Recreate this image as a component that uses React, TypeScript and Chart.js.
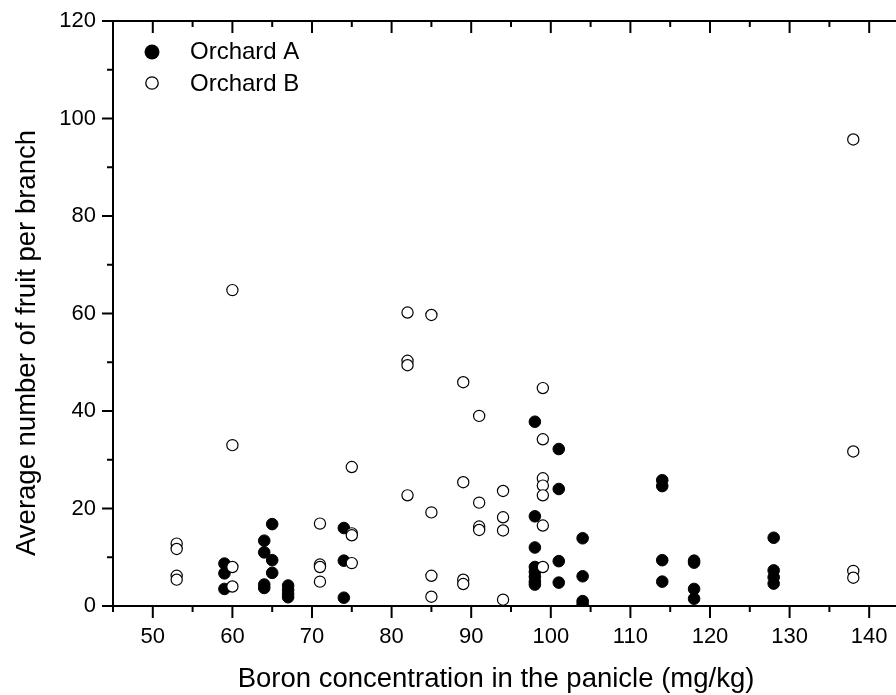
import React, { useEffect, useRef } from "react";
import { Chart, registerables } from "chart.js";

Chart.register(...registerables);

// ---- Data ----
const seriesLabels = ["Orchard A", "Orchard B"];

const orchardAX = [
  59, 59, 59,
  64, 64, 64, 64,
  65, 65, 65,
  67, 67, 67, 67,
  74, 74, 74,
  98, 98, 98, 98, 98, 98, 98, 98,
  101, 101, 101, 101,
  104, 104, 104, 104,
  114, 114, 114, 114,
  118, 118, 118, 118,
  128, 128, 128, 128,
];
const orchardAY = [
  8.7, 6.7, 3.5,
  13.4, 11.0, 4.4, 3.7,
  16.8, 9.4, 6.8,
  4.2, 3.3, 2.5, 1.8,
  16.0, 9.3, 1.7,
  37.8, 18.4, 12.0, 8.0, 7.0, 6.0, 5.0, 4.4,
  32.2, 24.0, 9.2, 4.8,
  13.9, 6.1, 1.0, 0.3,
  25.8, 24.6, 9.4, 5.0,
  9.3, 8.9, 3.5, 1.5,
  14.0, 7.3, 5.9, 4.6,
];

const orchardBX = [
  53, 53, 53, 53,
  60, 60, 60, 60,
  71, 71, 71, 71,
  75, 75, 75, 75,
  82, 82, 82, 82,
  85, 85, 85, 85,
  89, 89, 89, 89,
  91, 91, 91, 91,
  94, 94, 94, 94,
  99, 99, 99, 99, 99, 99, 99,
  138, 138, 138, 138,
];
const orchardBY = [
  12.8, 11.7, 6.2, 5.4,
  64.8, 33.0, 8.0, 4.0,
  16.9, 8.5, 8.0, 5.0,
  28.5, 14.9, 14.5, 8.8,
  60.2, 50.3, 49.4, 22.7,
  59.7, 19.2, 6.2, 1.9,
  45.9, 25.4, 5.4, 4.5,
  39.0, 21.2, 16.3, 15.6,
  23.6, 18.2, 15.5, 1.3,
  44.7, 34.2, 26.2, 24.7, 22.7, 16.5, 8.0,
  95.7, 31.7, 7.2, 5.8,
];

const xTickValues = [50, 60, 70, 80, 90, 100, 110, 120, 130, 140];
const yTickValues = [0, 20, 40, 60, 80, 100, 120];
const xRange = [45, 145];
const yRange = [0, 120];
const xTitle = "Boron concentration in the panicle (mg/kg)";
const yTitle = "Average number of fruit per branch";

const FONT = "'Liberation Sans', Arial, Helvetica, sans-serif";

function toPoints(xs: number[], ys: number[]) {
  return xs.map((x, i) => ({ x, y: ys[i] }));
}

const framePlugin = {
  id: "frame",
  beforeDatasetsDraw(chart: any) {
    const { ctx, chartArea, scales } = chart;
    const { left, right, top, bottom } = chartArea;
    const xs = scales.x;
    const ys = scales.y;
    ctx.save();
    ctx.strokeStyle = "#000";
    ctx.lineWidth = 2;
    ctx.beginPath();
    ctx.moveTo(left - 1, top);
    ctx.lineTo(right, top);
    ctx.moveTo(left - 1, bottom);
    ctx.lineTo(right, bottom);
    ctx.moveTo(left, top);
    ctx.lineTo(left, bottom);
    for (let v = xRange[0]; v <= xRange[1]; v += 5) {
      const px = xs.getPixelForValue(v);
      const len = v % 10 === 0 ? 12 : 6;
      ctx.moveTo(px, bottom);
      ctx.lineTo(px, bottom + len);
      ctx.moveTo(px, top);
      ctx.lineTo(px, top + len);
    }
    for (let v = yRange[0]; v <= yRange[1]; v += 10) {
      const py = ys.getPixelForValue(v);
      const len = v % 20 === 0 ? 11 : 6;
      ctx.moveTo(left, py);
      ctx.lineTo(left - len, py);
    }
    ctx.stroke();
    ctx.restore();
  },
  afterDraw(chart: any) {
    const { ctx } = chart;
    ctx.save();
    ctx.fillStyle = "#000";
    // axis titles
    ctx.font = `27.5px ${FONT}`;
    ctx.textAlign = "center";
    ctx.textBaseline = "middle";
    ctx.fillText(xTitle, 496, 679);
    ctx.save();
    ctx.translate(27, 343);
    ctx.rotate(-Math.PI / 2);
    ctx.fillText(yTitle, 0, 0);
    ctx.restore();
    // legend
    ctx.beginPath();
    ctx.arc(152, 52, 7.5, 0, Math.PI * 2);
    ctx.fillStyle = "#000";
    ctx.fill();
    ctx.beginPath();
    ctx.arc(152, 83, 6.2, 0, Math.PI * 2);
    ctx.fillStyle = "#fff";
    ctx.fill();
    ctx.lineWidth = 1.3;
    ctx.strokeStyle = "#000";
    ctx.stroke();
    ctx.fillStyle = "#000";
    ctx.font = `24px ${FONT}`;
    ctx.textAlign = "left";
    ctx.textBaseline = "middle";
    ctx.fillText(seriesLabels[0], 190, 52);
    ctx.fillText(seriesLabels[1], 190, 84);
    ctx.restore();
  },
};

export default function App() {
  const canvasRef = useRef<HTMLCanvasElement | null>(null);

  useEffect(() => {
    const canvas = canvasRef.current;
    if (!canvas) return;
    const chart = new Chart(canvas, {
      type: "scatter",
      data: {
        datasets: [
          {
            label: seriesLabels[1],
            data: toPoints(orchardBX, orchardBY),
            pointStyle: "circle",
            pointRadius: 5.6,
            pointHoverRadius: 5.6,
            backgroundColor: "#fff",
            borderColor: "#000",
            borderWidth: 1.2,
            order: 0,
          },
          {
            label: seriesLabels[0],
            data: toPoints(orchardAX, orchardAY),
            pointStyle: "circle",
            pointRadius: 5.8,
            pointHoverRadius: 5.8,
            backgroundColor: "#000",
            borderColor: "#000",
            borderWidth: 1,
            order: 1,
          },
        ],
      },
      options: {
        responsive: false,
        animation: false,
        devicePixelRatio: 1,
        layout: { padding: { top: 21, right: 21, left: 0, bottom: 0 } },
        plugins: {
          legend: { display: false },
          tooltip: { enabled: false },
          title: { display: false },
        },
        scales: {
          x: {
            type: "linear",
            position: "bottom",
            min: xRange[0],
            max: xRange[1],
            afterBuildTicks: (s: any) => {
              s.ticks = xTickValues.map((v) => ({ value: v }));
            },
            afterFit: (s: any) => {
              s.height = 89;
              s.paddingLeft = 0;
              s.paddingRight = 0;
            },
            grid: { display: false, drawTicks: false },
            border: { display: false },
            ticks: {
              autoSkip: false,
              maxRotation: 0,
              padding: 18,
              color: "#000",
              font: { family: FONT, size: 22 },
              callback: (v: any) => String(v),
            },
          },
          y: {
            type: "linear",
            position: "left",
            min: yRange[0],
            max: yRange[1],
            afterBuildTicks: (s: any) => {
              s.ticks = yTickValues.map((v) => ({ value: v }));
            },
            afterFit: (s: any) => {
              s.width = 113;
              s.paddingTop = 0;
              s.paddingBottom = 0;
            },
            grid: { display: false, drawTicks: false },
            border: { display: false },
            ticks: {
              autoSkip: false,
              padding: 17,
              color: "#000",
              font: { family: FONT, size: 22 },
              callback: (v: any) => String(v),
            },
          },
        },
      },
      plugins: [framePlugin],
    } as any);
    return () => chart.destroy();
  }, []);

  return (
    <div
      style={{
        position: "fixed",
        left: 0,
        top: 0,
        width: 896,
        height: 695,
        overflow: "hidden",
        background: "#fff",
      }}
    >
      <canvas
        ref={canvasRef}
        width={930}
        height={695}
        style={{ display: "block", width: 930, height: 695 }}
      />
    </div>
  );
}
